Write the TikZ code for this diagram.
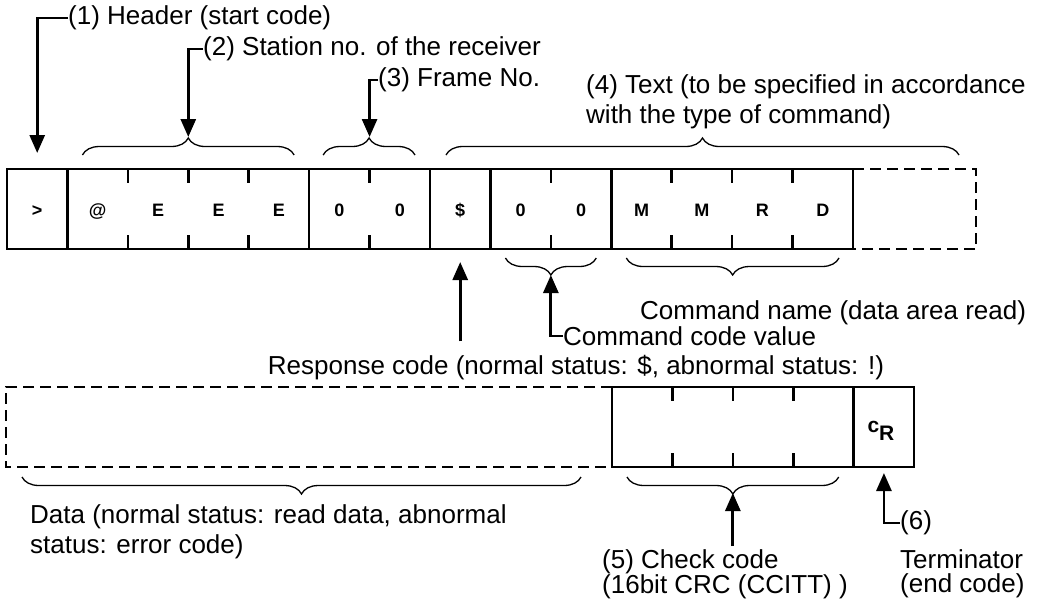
\documentclass[tikz,border=0pt]{standalone}
\usepackage{fontspec}
\setmainfont{Liberation Sans}
\usetikzlibrary{arrows.meta,decorations.pathreplacing,calc}
\newcommand{\lblfont}{\fontsize{26}{30}\selectfont}
\newcommand{\tightfont}{\fontsize{26}{24}\selectfont}
\newcommand{\chrfont}{\fontsize{18}{20}\selectfont\bfseries}
\newcommand{\cw}{60.43}
\tikzset{
  >=Triangle,
  grp/.style={draw, line width=2.6pt, minimum height=80pt, inner sep=0pt, outer sep=0pt, anchor=west},
  tickmark/.style={line width=2.6pt},
  dashline/.style={line width=2.6pt, dash pattern=on 11pt off 6pt},
  bracket/.style={decorate, decoration={brace, amplitude=17pt}, line width=1.3pt},
  bracketdown/.style={decorate, decoration={brace, mirror, amplitude=17pt}, line width=1.3pt},
  callout/.style={-{Triangle[length=18pt,width=15pt]}, line width=2.8pt},
  lbl/.style={font=\lblfont, inner sep=0pt, anchor=west, align=left},
  chr/.style={font=\chrfont, inner sep=0pt, anchor=base}
}

\begin{document}
\begin{tikzpicture}[x=1pt,y=-1pt]
\useasboundingbox (0,0) rectangle (1038,598);
\coordinate (extne) at (976,169);
\coordinate (extse) at (976,249);
\coordinate (datanw) at (6,387);
\coordinate (datasw) at (6,467);
\foreach \n/\x/\k in {hdr/7/1, stn/67.43/4, frm/309.15/2, rsp/430/1, cmdc/490.43/2, cmdn/611.29/4}
  \node[grp, minimum width={\k*\cw*1pt}] (\n) at (\x,209) {};
\node[grp, minimum width={4*\cw*1pt}] (crc) at (612,427) {};
\node[grp, minimum width={\cw*1pt}] (term) at (crc.east) {};
\draw[dashline] (cmdn.north east) -- (extne) -- (extse) -- (cmdn.south east);
\draw[dashline] (crc.north west) -- (datanw) -- (datasw) -- (crc.south west);
\foreach \n/\t in {stn/3, frm/1, cmdc/1, cmdn/3, crc/3}
  \foreach \k in {1,...,\t} {
    \draw[tickmark] ($(\n.north west)+(\k*\cw,0)$) -- ++(0,14);
    \draw[tickmark] ($(\n.south west)+(\k*\cw,0)$) -- ++(0,-14);
  }
\foreach \c [count=\i] in {>,@,E,E,E,0,0,\$,0,0,M,M,R,D}
  \node[chr] (ch\i) at ({7+(\i-0.5)*\cw},216) {\c};
\node[chr, font=\fontsize{21}{22}\selectfont\bfseries] (crchr) at ($(term.center)+(-3,5)$) {c\raisebox{-8pt}{R}};

\node[lbl] (hdrlbl) at (68,18) {(1) Header (start code)};
\node[lbl] (stnlbl) at (203,49) {(2) Station no. of the receiver};
\node[lbl] (frmlbl) at (378,80) {(3) Frame No.};
\node[lbl] (txtlbl) at (586,102) {(4) Text (to be specified in accordance\\with the type of command)};
\node[lbl] (cmdnlbl) at (640,313) {Command name (data area read)};
\node[lbl] (cmdclbl) at (563,336) {Command code value};
\node[lbl, anchor=center] (rsplbl) at (576,368) {Response code (normal status: \$, abnormal status: !)};
\node[lbl] (datalbl) at (30,532) {Data (normal status: read data, abnormal\\status: error code)};
\node[lbl, font=\tightfont] (crclbl) at (602,574) {(5) Check code\\(16bit CRC (CCITT) )};
\node[lbl] (termnum) at (900,523) {(6)};
\node[lbl, font=\tightfont] (termlbl) at (900,574) {Terminator\\(end code)};

\draw[bracket] ($(stn.north west)+(15,-14)$) -- ($(stn.north east)+(-15,-14)$);
\draw[bracket] ($(frm.north west)+(14,-14)$) -- ($(frm.north east)+(-15,-14)$);
\draw[bracket] ($(rsp.north west)+(16,-14)$) -- ($(extne)+(-17,-14)$);
\draw[bracketdown] ($(cmdc.south west)+(15,9)$) -- ($(cmdc.south east)+(-15,9)$);
\draw[bracketdown] ($(cmdn.south west)+(15,9)$) -- ($(cmdn.south east)+(-14,9)$);
\draw[bracketdown] ($(datasw)+(16,10)$) -- ($(crc.south west)+(-31,10)$);
\draw[bracketdown] ($(crc.south west)+(15,10)$) -- ($(crc.south east)+(-15,10)$);

\draw[callout] (hdrlbl.west) -| ($(hdr.north)+(0,-16)$);
\draw[callout] (stnlbl.west) -| ($(stn.north)+(0,-32)$);
\draw[callout] (frmlbl.west) -| ($(frm.north)+(0,-32)$);
\draw[callout] (cmdclbl.west) -| ($(cmdc.south)+(0,26)$);
\draw[callout] ($(rsplbl.north -| rsp.south)+(0,-14)$) -- ($(rsp.south)+(0,13)$);
\draw[callout] ($(crclbl.north -| crc.south)+(0,-3)$) -- ($(crc.south)+(0,26)$);
\draw[callout] (termnum.west) -| ($(term.south)+(0,6)$);
\end{tikzpicture}
\end{document}
